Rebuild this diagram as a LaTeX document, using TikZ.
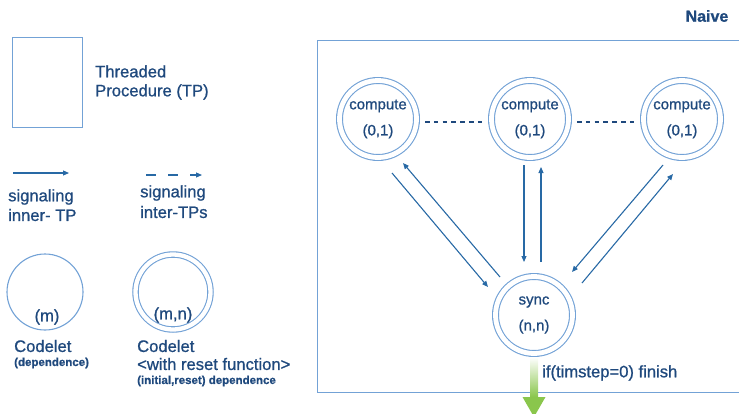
\documentclass[tikz,border=0pt]{standalone}
\usepackage{fontspec}
\setmainfont{Liberation Sans}[FakeBold=0.9]
\newfontfamily\heavy{Liberation Sans}[FakeBold=0.9]
\usetikzlibrary{arrows.meta,calc}
\definecolor{outline}{RGB}{115,162,214}
\definecolor{sigblue}{RGB}{40,105,165}
\definecolor{ink}{RGB}{31,73,125}
\definecolor{leaf}{RGB}{138,198,76}
\begin{document}
\begin{tikzpicture}[x=1pt,y=-1pt,
  tpbox/.style={draw=outline, line width=1.4pt, inner sep=0pt},
  sig/.style={draw=sigblue, line width=1.1pt, -{Triangle[length=6pt,width=5pt]}},
  sigdash/.style={sig, dash pattern=on 10pt off 12pt},
  codelet/.style={circle, draw=outline, line width=1.1pt, minimum size=76pt, inner sep=0pt},
  rcodelet/.style={circle, draw=outline, line width=1.1pt, double=white,
    double distance=4.8pt, minimum size=77pt, inner sep=0pt, align=center,
    text=ink, font=\heavy\fontsize{15}{18}\selectfont},
  txt/.style={text=ink, anchor=west, inner sep=0pt, align=left,
    font=\heavy\fontsize{16.6}{19}\selectfont},
  small/.style={txt, font=\bfseries\fontsize{11.5}{14}\selectfont},
  dots/.style={draw=ink, line width=2.4pt, dash pattern=on 4.5pt off 4.3pt}]
\useasboundingbox (0,0) rectangle (739,413);
\clip (0,0) rectangle (739,413);

% ---- legend ----
\node[tpbox, anchor=north west, minimum width=70pt, minimum height=90pt] (lgTP) at (12,37) {};
\node[txt] (lgTPt) at (95,82.5) {Threaded\\Procedure (TP)};

\coordinate (s0) at (13,173);
\coordinate (s1) at (69,173);
\draw[sig] (s0) -- (s1);
\node[txt] (s1a) at (8,197) {signaling};
\node[txt] (s1b) at (8,215) {inner- TP};

\coordinate (d0) at (146,175);
\coordinate (d1) at (202,175);
\draw[sigdash] (d0) -- (d1);
\node[txt] (d1a) at (140,193) {signaling};
\node[txt] (d1b) at (140,212) {inter-TPs};

\node[codelet] (lgC) at (45,292) {};
\node[txt, anchor=center] (lgCt) at ($(lgC)+(2,25)$) {(m)};
\node[txt] (lgCa) at (14,346) {Codelet};
\node[small] (lgCb) at (14,363) {(dependence)};

\node[rcodelet, minimum size=75pt, double distance=4.3pt] (lgR) at (173,292) {};
\node[txt, anchor=center] (lgRt) at ($(lgR)+(0,23)$) {(m,n)};
\node[txt] (lgRa) at (137,346) {Codelet};
\node[txt] (lgRb) at (137,364) {<with reset function>};
\node[small] (lgRc) at (137,381) {(initial,reset) dependence};

% ---- naive scheme ----
\node[text=ink, font=\bfseries\fontsize{16}{19}\selectfont] (title) at (707,16) {Naive};
\node[tpbox, anchor=north west, minimum width=430pt, minimum height=352pt] (naivebox) at (317,40) {};

\node[rcodelet] (c1) at (378,119) {compute\\[8pt](0,1)};
\node[rcodelet] (c2) at (530,119) {compute\\[8pt](0,1)};
\node[rcodelet] (c3) at (682,119) {compute\\[8pt](0,1)};
\node[rcodelet] (sync) at (534,315) {sync\\[8pt](n,n)};

\draw[dots] ([shift={(8,3)}]c1.east) -- ([shift={(-8,3)}]c2.west);
\draw[dots] ([shift={(8,3)}]c2.east) -- ([shift={(-8,3)}]c3.west);

\draw[sig] ($(c1)+(14,54)$) -- ($(sync)+(-46,-28)$);
\draw[sig] ($(sync)+(-34,-38)$) -- ($(c1)+(25,44)$);
\draw[sig] ($(c2)+(-6,46)$) -- ($(sync)+(-10,-53)$);
\draw[sig] ($(sync)+(7,-53)$) -- ($(c2)+(11,48)$);
\draw[sig] ($(c3)+(-19,46)$) -- ($(sync)+(38,-43)$);
\draw[sig] ($(sync)+(48,-32)$) -- ($(c3)+(-9,55)$);

% finishing exit
\shade[top color=white, bottom color=leaf] ($(sync)+(-4,42)$) rectangle ($(sync)+(4,82)$);
\fill[leaf] ($(sync)+(-11.5,82)$) -- ($(sync)+(11.5,82)$) -- ($(sync)+(0,102)$) -- cycle;
\node[txt] (fin) at (542,373) {if(timstep=0) finish};
\end{tikzpicture}
\end{document}
